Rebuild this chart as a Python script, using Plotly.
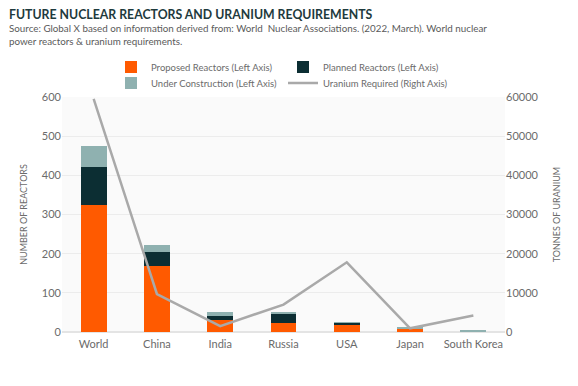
import plotly.graph_objects as go

countries = ["World", "China", "India", "Russia", "USA", "Japan", "South Korea"]
proposed = [325, 168, 30, 22, 17, 9, 0]
planned = [96, 35, 12, 26, 6, 1, 0]
under_construction = [55, 20, 8, 2, 2, 2, 6]
uranium = [59500, 9700, 1500, 7000, 17800, 950, 4200]

left_ticks = [0, 100, 200, 300, 400, 500, 600]
right_ticks = [0, 10000, 20000, 30000, 40000, 50000, 60000]

W, H = 578, 386
L, R, T, B = 54, 81, 89, 62
PW = W - L - R

fig = go.Figure()
fig.add_trace(go.Bar(x=countries, y=proposed, name="Proposed Reactors (Left Axis)",
                     marker=dict(color="#FF5A00", line=dict(width=0)), legend="legend"))
fig.add_trace(go.Bar(x=countries, y=planned, name="Planned Reactors (Left Axis)",
                     marker=dict(color="#0C2E33", line=dict(width=0)), legend="legend"))
fig.add_trace(go.Bar(x=countries, y=under_construction, name="Under Construction (Left Axis)",
                     marker=dict(color="#8FB1B0", line=dict(width=0)), legend="legend2"))
fig.add_trace(go.Scatter(x=countries, y=uranium, name="Uranium Required (Right Axis)",
                         mode="lines", yaxis="y2", legend="legend2",
                         line=dict(color="#A9A9A9", width=2.5)))

tickfont = dict(family="Lato, sans-serif", size=11, color="#6b6b6b")
titlefont = dict(family="Lato, sans-serif", size=9, color="#6b6b6b")
legfont = dict(family="Lato, sans-serif", size=9.5, color="#6b6b6b")

leg_common = dict(orientation="h", xref="container", yref="container",
                  xanchor="left", yanchor="middle", entrywidth=127,
                  traceorder="normal", font=legfont, bgcolor="rgba(0,0,0,0)",
                  itemwidth=30)

fig.update_layout(
    width=W, height=H,
    margin=dict(l=L, r=R, t=T, b=B, autoexpand=False),
    barmode="stack", bargap=0.59,
    paper_bgcolor="white", plot_bgcolor="#fafafa",
    showlegend=True,
    legend=dict(x=103 / W, y=1 - 59 / H, **leg_common),
    legend2=dict(x=103 / W, y=1 - 75 / H, **leg_common),
    xaxis=dict(tickfont=tickfont, showgrid=False, showline=False, ticks="",
               automargin=False, ticklabelstandoff=4),
    yaxis=dict(range=[0, 600], tickvals=left_ticks, tickfont=tickfont, automargin=False,
               gridcolor="#ececec", gridwidth=1, zeroline=True, zerolinecolor="#e4e4e4",
               title=dict(text="NUMBER OF REACTORS", standoff=12, font=titlefont)),
    yaxis2=dict(range=[0, 60000], tickvals=right_ticks, tickformat="d", overlaying="y",
                side="right", automargin=False,
                tickfont=tickfont, showgrid=False, zeroline=False,
                title=dict(text="TONNES OF URANIUM", standoff=16, font=titlefont)),
    annotations=[
        dict(text="<b>FUTURE NUCLEAR REACTORS AND URANIUM REQUIREMENTS</b>",
             xref="paper", yref="paper", x=-L / PW, y=1.0, xanchor="left", yanchor="top",
             yshift=T + 2, showarrow=False, borderpad=0,
             font=dict(family="Lato, sans-serif", size=12.3, color="#1E3A3D")),
        dict(text="Source: Global X based on information derived from: World  Nuclear Associations. (2022, March). World nuclear<br>power reactors &amp; uranium requirements.",
             xref="paper", yref="paper", x=-L / PW, y=1.0, xanchor="left", yanchor="top",
             yshift=T - 13, showarrow=False, align="left", borderpad=0,
             font=dict(family="Lato, sans-serif", size=9.8, color="#5a5a5a")),
    ],
)

fig.write_html("out.html")
